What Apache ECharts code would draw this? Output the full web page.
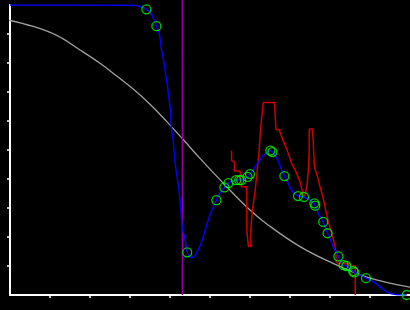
<!DOCTYPE html>
<html>
<head>
<meta charset="utf-8">
<style>
  html, body { margin: 0; padding: 0; background: #000; }
  #chart { width: 410px; height: 310px; }
</style>
<script src="https://cdn.jsdelivr.net/npm/echarts@6/dist/echarts.min.js"></script>
</head>
<body>
<div id="chart"></div>
<script>
// Tick values (no labels shown in reference)
const xTicks = [1, 2, 3, 4, 5, 6, 7, 8, 9];
const yTicks = [1, 2, 3, 4, 5, 6, 7, 8, 9];

// Gray smooth decreasing curve (x, y)
const grayX = [-0.25, 0.58, 1.17, 1.75, 2.25, 2.67, 3.08, 3.5, 3.92, 4.33, 4.75, 5.42, 6.0, 6.42, 7.25, 8.08, 8.92, 10.0];
const grayY = [9.54, 9.26, 8.95, 8.45, 7.99, 7.55, 7.10, 6.58, 5.98, 5.36, 4.71, 3.73, 2.93, 2.45, 1.67, 1.09, 0.62, 0.27];

// Blue fitted curve (x, y)
const blueX = [0, 3.05, 3.25, 3.41, 3.53, 3.66, 3.73, 3.79, 3.84, 3.89, 3.94, 3.98, 4.01, 4.04, 4.08, 4.10, 4.15, 4.19, 4.25, 4.29, 4.32, 4.38, 4.43, 4.48, 4.53, 4.60, 4.68, 4.78, 4.88, 5.0, 5.16, 5.25, 5.36, 5.46, 5.55, 5.65, 5.73, 5.78, 5.85, 5.94, 6.0, 6.08, 6.25, 6.38, 6.51, 6.56, 6.65, 6.71, 6.79, 6.86, 6.96, 7.04, 7.13, 7.2, 7.35, 7.48, 7.61, 7.63, 7.71, 7.83, 7.94, 8.08, 8.21, 8.29, 8.34, 8.41, 8.5, 8.58, 8.61, 8.75, 8.9, 9.08, 9.25, 9.42, 9.54, 9.63, 9.92];
const blueY = [10.0, 9.99, 9.95, 9.85, 9.69, 9.27, 9.02, 8.45, 8.10, 7.64, 7.17, 6.72, 6.38, 5.69, 5.34, 5.0, 4.31, 3.97, 3.28, 2.59, 2.24, 1.90, 1.47, 1.34, 1.29, 1.31, 1.48, 1.79, 2.24, 2.76, 3.27, 3.52, 3.71, 3.86, 3.93, 3.96, 3.97, 3.97, 4.0, 4.07, 4.17, 4.31, 4.66, 4.86, 4.98, 4.93, 4.76, 4.60, 4.31, 4.10, 3.83, 3.62, 3.48, 3.41, 3.38, 3.29, 3.16, 3.08, 2.82, 2.51, 2.13, 1.67, 1.33, 1.09, 1.03, 1.0, 0.89, 0.82, 0.78, 0.69, 0.58, 0.46, 0.29, 0.11, 0.04, 0.02, 0.0];

// Green circle markers (x, y)
const markX = [3.41, 3.66, 4.43, 5.16, 5.36, 5.46, 5.65, 5.73, 5.78, 5.94, 6.0, 6.51, 6.56, 6.86, 7.2, 7.35, 7.61, 7.63, 7.83, 7.94, 8.21, 8.34, 8.41, 8.58, 8.61, 8.9, 9.92];
const markY = [9.85, 9.27, 1.47, 3.27, 3.71, 3.86, 3.96, 3.96, 3.96, 4.07, 4.17, 4.98, 4.93, 4.10, 3.41, 3.38, 3.16, 3.08, 2.52, 2.13, 1.33, 1.03, 1.0, 0.82, 0.78, 0.58, 0.0];

// Red raw line (x, y)
const redX = [5.54, 5.54, 5.61, 5.61, 5.75, 5.77, 5.79, 5.92, 5.92, 5.96, 6.02, 6.02, 6.06, 6.13, 6.18, 6.23, 6.26, 6.29, 6.32, 6.33, 6.61, 6.63, 6.65, 6.73, 6.79, 6.92, 7.04, 7.13, 7.25, 7.33, 7.36, 7.42, 7.46, 7.48, 7.48, 7.56, 7.58, 7.59, 7.61, 7.69, 7.75, 7.83, 7.88, 7.96, 8.04, 8.11, 8.15, 8.15, 8.21, 8.5, 8.5, 8.63, 8.63];
const redY = [4.98, 4.63, 4.60, 4.28, 4.28, 3.97, 3.73, 3.73, 2.24, 1.67, 1.67, 2.24, 2.93, 3.62, 4.31, 5.0, 5.69, 6.09, 6.44, 6.64, 6.64, 6.17, 5.71, 5.71, 5.46, 5.03, 4.54, 4.31, 3.91, 3.45, 3.38, 3.73, 4.31, 5.0, 5.72, 5.72, 5.34, 5.0, 4.42, 4.08, 3.73, 3.34, 3.0, 2.53, 2.13, 1.78, 1.44, 1.15, 1.09, 1.07, 1.0, 1.0, 0.0];

// Purple vertical line
const purpleX = [4.31, 4.31];
const purpleY = [10.17, 0];

const zip = (a, b) => a.map((v, i) => [v, b[i]]);

const chart = echarts.init(document.getElementById('chart'), null, { renderer: 'canvas' });
const axisCommon = {
  type: 'value', min: 0, max: 10, interval: 1,
  axisLine: { show: true, onZero: false, lineStyle: { color: '#ffffff', width: 2 } },
  axisTick: { show: true, inside: false, length: 3, lineStyle: { color: '#ffffff', width: 1.5 } },
  axisLabel: { show: false },
  splitLine: { show: false }
};
chart.setOption({
  backgroundColor: '#000000',
  animation: false,
  grid: { left: 10, right: 0, top: 5, bottom: 15, containLabel: false },
  xAxis: Object.assign({}, axisCommon, { axisTick: Object.assign({}, axisCommon.axisTick, { customValues: xTicks }) }),
  yAxis: Object.assign({}, axisCommon, { axisTick: Object.assign({}, axisCommon.axisTick, { customValues: yTicks }) }),
  series: [
    { type: 'line', data: zip(grayX, grayY), smooth: 0.4, showSymbol: false, clip: false,
      lineStyle: { color: '#a0a0a0', width: 1.3 }, z: 1 },
    { type: 'line', data: zip(purpleX, purpleY), showSymbol: false, clip: false,
      lineStyle: { color: '#990099', width: 1.5 }, z: 2 },
    { type: 'line', data: zip(redX, redY), showSymbol: false,
      lineStyle: { color: '#cc0000', width: 1.5 }, z: 3 },
    { type: 'line', data: zip(blueX, blueY), smooth: 0.3, showSymbol: false,
      lineStyle: { color: '#0000ff', width: 1.5 }, z: 4 },
    { type: 'scatter', data: zip(markX, markY), symbol: 'circle', symbolSize: 9, clip: false,
      itemStyle: { color: 'rgba(0,0,0,0)', borderColor: '#00ff00', borderWidth: 1.3 }, z: 5 }
  ]
});
</script>
</body>
</html>
